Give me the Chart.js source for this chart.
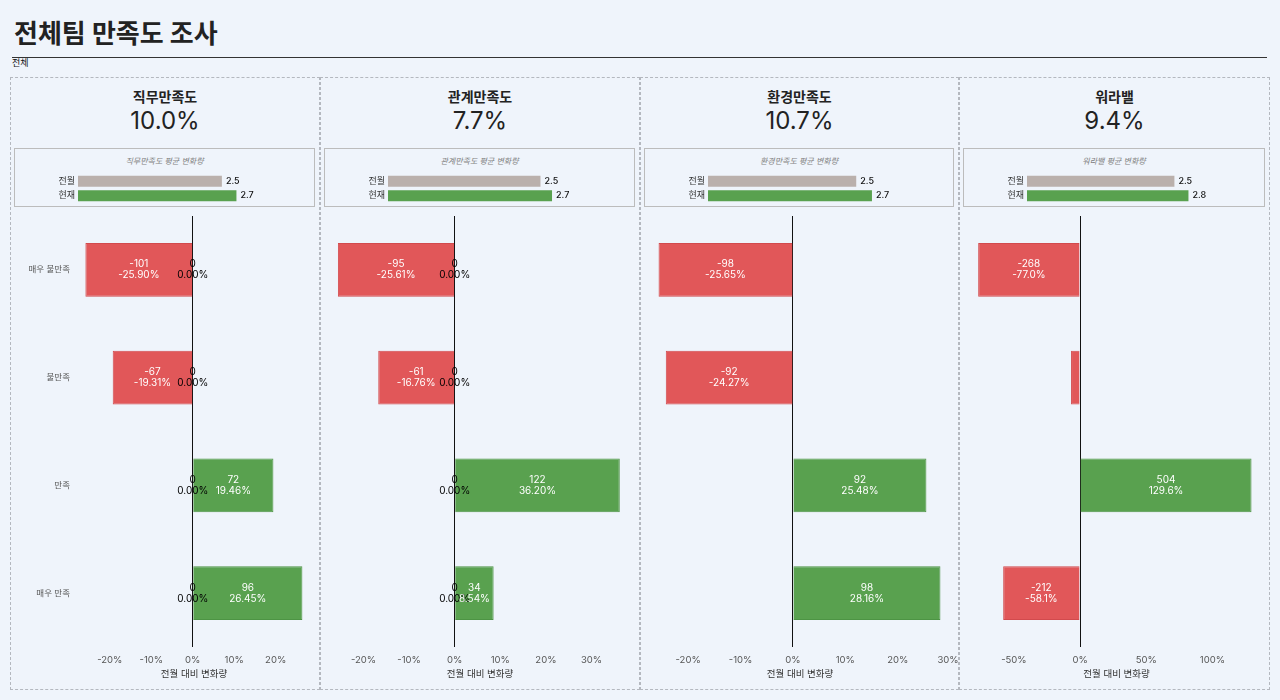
<!DOCTYPE html>
<html lang="ko">
<head>
<meta charset="utf-8">
<title>전체팀 만족도 조사</title>
<script src="https://cdn.jsdelivr.net/npm/chart.js@4/dist/chart.umd.min.js"></script>
<style>
	html, body {
		margin: 0;
		padding: 0;
		background: #eff4fb;
		font-family: Inter, "Noto Sans CJK KR", sans-serif;
		color: #222;
	}
	#page {
		position: relative;
		width: 1280px;
		height: 700px;
		overflow: hidden;
	}
	#title {
		position: absolute;
		left: 14px;
		top: 18px;
		font-size: 26px;
		line-height: 32px;
		font-weight: 700;
		color: #222;
	}
	#rule {
		position: absolute;
		left: 12px;
		top: 57px;
		width: 1255px;
		height: 1px;
		background: #333;
	}
	#sub {
		position: absolute;
		left: 12px;
		top: 58px;
		font-size: 9px;
		line-height: 10px;
		color: #111;
	}
	.panel {
		position: absolute;
		top: 77px;
		height: 613px;
		box-sizing: border-box;
		border: 1px dashed #b4b8bf;
	}
	.panel-title {
		position: absolute;
		left: 0;
		right: 0;
		top: 10px;
		text-align: center;
		font-size: 14px;
		line-height: 18px;
		font-weight: 700;
		color: #222;
	}
	.panel-pct {
		position: absolute;
		left: 0;
		right: 0;
		top: 29px;
		text-align: center;
		font-size: 24px;
		line-height: 28px;
		color: #222;
	}
	.mini {
		position: absolute;
		left: 3px;
		right: 4px;
		top: 70px;
		height: 59px;
		box-sizing: border-box;
		border: 1px solid #bcbcbc;
	}
	.mini-title {
		position: absolute;
		left: 0;
		right: 0;
		top: 6px;
		text-align: center;
		font-size: 8px;
		line-height: 12px;
		font-style: italic;
		color: #808080;
	}
	.mini canvas {
		position: absolute;
		left: 0;
		top: 25px;
	}
	.main {
		position: absolute;
		left: 0;
		top: 132px;
	}
</style>
</head>
<body>
<div id="page">
	<div id="title">전체팀 만족도 조사</div>
	<div id="rule"></div>
	<div id="sub">전체</div>
</div>
<script>
"use strict";

// Categories (same for all four panels)
const categories = ["매우 불만족", "불만족", "만족", "매우 만족"];

// Panel titles and headline change
const panelTitles = ["직무만족도", "관계만족도", "환경만족도", "워라밸"];
const headlinePct = [10.0, 7.7, 10.7, 9.4];

// Mini chart: average score, last month vs now
const miniLabels = ["전월", "현재"];
const avgPrev = [2.47, 2.51, 2.45, 2.52];
const avgNow = [2.72, 2.70, 2.71, 2.76];

// Change vs last month (%), split in negative/positive series
const negPct1 = [-25.90, -19.31, 0, 0];
const posPct1 = [0, 0, 19.46, 26.45];
const negCnt1 = [-101, -67, 0, 0];
const posCnt1 = [0, 0, 72, 96];

const negPct2 = [-25.61, -16.76, 0, 0];
const posPct2 = [0, 0, 36.20, 8.54];
const negCnt2 = [-95, -61, 0, 0];
const posCnt2 = [0, 0, 122, 34];

const negPct3 = [-25.65, -24.27, null, null];
const posPct3 = [null, null, 25.48, 28.16];
const negCnt3 = [-98, -92, null, null];
const posCnt3 = [null, null, 92, 98];

const negPct4 = [-77.0, -6.8, null, -58.1];
const posPct4 = [null, null, 129.6, null];
const negCnt4 = [-268, -24, null, -212];
const posCnt4 = [null, null, 504, null];

// Axis ranges and ticks for each panel
const xMin = [-27.2, -26.9, -26.9, -80.9];
const xMax = [27.8, 38.0, 29.6, 136.0];
const xTicks1 = [-20, -10, 0, 10, 20];
const xTicks2 = [-20, -10, 0, 10, 20, 30];
const xTicks3 = [-20, -10, 0, 10, 20, 29.6];
const xTicks4 = [-50, 0, 50, 100];
const pctDecimals = [2, 2, 2, 1];

const panelLeft = [10, 320, 640, 959];
const panelWidth = [310, 320, 319, 311];
const padLeft = [0, 11, 11, 13];
const padRight = [11, 11, 10, 9];

const RED = "#e15759";
const RED_EDGE = "#d24a4d";
const GREEN = "#59a14f";
const GREEN_EDGE = "#4d9444";
const GREY = "#bab0ac";

const FONT = "Inter, 'Noto Sans CJK KR', sans-serif";
Chart.defaults.font.family = FONT;
Chart.defaults.animation = false;

const panels = [
	{ neg: negPct1, pos: posPct1, negCnt: negCnt1, posCnt: posCnt1, ticks: xTicks1 },
	{ neg: negPct2, pos: posPct2, negCnt: negCnt2, posCnt: posCnt2, ticks: xTicks2 },
	{ neg: negPct3, pos: posPct3, negCnt: negCnt3, posCnt: posCnt3, ticks: xTicks3 },
	{ neg: negPct4, pos: posPct4, negCnt: negCnt4, posCnt: posCnt4, ticks: xTicks4 },
];

function noScalePadding(scale) {
	scale.paddingTop = 0;
	scale.paddingBottom = 0;
	scale.paddingLeft = 0;
	scale.paddingRight = 0;
}

// draws "count / percent" inside each bar, black at the zero line for zero values
const barLabels = {
	id: "barLabels",
	afterDatasetsDraw(chart, args, opts) {
		const ctx = chart.ctx;
		ctx.save();
		ctx.font = `10px ${FONT}`;
		ctx.textAlign = "center";
		ctx.textBaseline = "middle";
		chart.data.datasets.forEach((ds, di) => {
			const meta = chart.getDatasetMeta(di);
			meta.data.forEach((el, i) => {
				const v = ds.data[i];
				if (v === null || v === undefined) {
					return;
				}
				const p = el.getProps(["x", "y", "base"], true);
				const w = Math.abs(p.x - p.base);
				if (v !== 0 && w < 30) {
					return;
				}
				const cnt = ds.counts[i];
				const txt = v.toFixed(opts.decimals) + "%";
				ctx.fillStyle = v === 0 ? "#000" : "#fff";
				const cx = (p.x + p.base) / 2;
				ctx.fillText(String(cnt), cx, p.y - 5.5);
				ctx.fillText(txt, cx, p.y + 5.5);
			});
		});
		ctx.restore();
	},
};

// value after the bar in the mini chart
const miniValues = {
	id: "miniValues",
	afterDatasetsDraw(chart) {
		const ctx = chart.ctx;
		ctx.save();
		ctx.font = `500 9px ${FONT}`;
		ctx.fillStyle = "#111";
		ctx.textAlign = "left";
		ctx.textBaseline = "middle";
		const ds = chart.data.datasets[0];
		chart.getDatasetMeta(0).data.forEach((el, i) => {
			ctx.fillText(ds.data[i].toFixed(1), el.x + 4, el.y);
		});
		ctx.restore();
	},
};

const page = document.getElementById("page");

panels.forEach((pn, k) => {
	const div = document.createElement("div");
	div.className = "panel";
	div.style.left = panelLeft[k] + "px";
	div.style.width = panelWidth[k] + "px";
	const innerW = panelWidth[k] - 2;

	const t = document.createElement("div");
	t.className = "panel-title";
	t.textContent = panelTitles[k];
	div.appendChild(t);

	const pct = document.createElement("div");
	pct.className = "panel-pct";
	pct.textContent = headlinePct[k].toFixed(1) + "%";
	div.appendChild(pct);

	const mini = document.createElement("div");
	mini.className = "mini";
	const mt = document.createElement("div");
	mt.className = "mini-title";
	mt.textContent = panelTitles[k] + " 평균 변화량";
	mini.appendChild(mt);
	const miniCanvas = document.createElement("canvas");
	const miniW = innerW - 7 - 2;
	miniCanvas.style.width = miniW + "px";
	miniCanvas.style.height = "29px";
	mini.appendChild(miniCanvas);
	div.appendChild(mini);

	const mainCanvas = document.createElement("canvas");
	mainCanvas.className = "main";
	mainCanvas.style.width = innerW + "px";
	mainCanvas.style.height = "479px";
	div.appendChild(mainCanvas);

	page.appendChild(div);

	new Chart(miniCanvas, {
		type: "bar",
		data: {
			labels: miniLabels,
			datasets: [{
				data: [avgPrev[k], avgNow[k]],
				backgroundColor: [GREY, GREEN],
				borderWidth: 0,
				categoryPercentage: 0.8,
				barPercentage: 0.95,
			}],
		},
		options: {
			indexAxis: "y",
			responsive: false,
			maintainAspectRatio: false,
			layout: { padding: { left: 0, right: 3, top: 0, bottom: 0 } },
			plugins: { legend: { display: false }, tooltip: { enabled: false } },
			scales: {
				x: {
					display: false,
					min: 0,
					max: 4,
					afterFit(scale) { noScalePadding(scale); scale.height = 0; },
				},
				y: {
					grid: { display: false, drawTicks: false },
					border: { display: false },
					ticks: { color: "#333", font: { size: 9 }, padding: 3 },
					afterFit(scale) { noScalePadding(scale); scale.width = 63; },
				},
			},
		},
		plugins: [miniValues],
	});

	new Chart(mainCanvas, {
		type: "bar",
		data: {
			labels: categories,
			datasets: [
				{
					data: pn.neg,
					counts: pn.negCnt,
					backgroundColor: RED,
					borderColor: RED_EDGE,
					borderWidth: 1,
					grouped: false,
					categoryPercentage: 0.5,
					barPercentage: 1,
				},
				{
					data: pn.pos,
					counts: pn.posCnt,
					backgroundColor: GREEN,
					borderColor: GREEN_EDGE,
					borderWidth: 1,
					grouped: false,
					categoryPercentage: 0.5,
					barPercentage: 1,
				},
			],
		},
		options: {
			indexAxis: "y",
			responsive: false,
			maintainAspectRatio: false,
			layout: { padding: { left: padLeft[k], right: padRight[k], top: 6, bottom: 0 } },
			plugins: {
				legend: { display: false },
				tooltip: { enabled: false },
				barLabels: { decimals: pctDecimals[k] },
			},
			scales: {
				x: {
					min: xMin[k],
					max: xMax[k],
					afterBuildTicks(scale) {
						scale.ticks = pn.ticks.map(v => ({ value: v }));
					},
					grid: {
						drawTicks: false,
						color: c => (c.tick && c.tick.value === 0 ? "#111" : "rgba(0,0,0,0)"),
						lineWidth: 1,
					},
					border: { display: false },
					ticks: {
						color: "#555",
						font: { size: 9.5 },
						padding: 7,
						callback: v => Math.round(v) + "%",
					},
					title: {
						display: true,
						text: "전월 대비 변화량",
						color: "#333",
						font: { size: 9.5 },
						padding: { top: 4, bottom: 9 },
					},
					afterFit(scale) { noScalePadding(scale); scale.height = 42; },
				},
				y: {
					grid: { display: false, drawTicks: false },
					border: { display: false },
					ticks: {
						display: k === 0,
						color: "#555",
						font: { size: 8.5 },
						padding: 10,
					},
					afterFit(scale) { noScalePadding(scale); scale.width = k === 0 ? 69 : 0; },
				},
			},
		},
		plugins: [barLabels],
	});
});
</script>
</body>
</html>
